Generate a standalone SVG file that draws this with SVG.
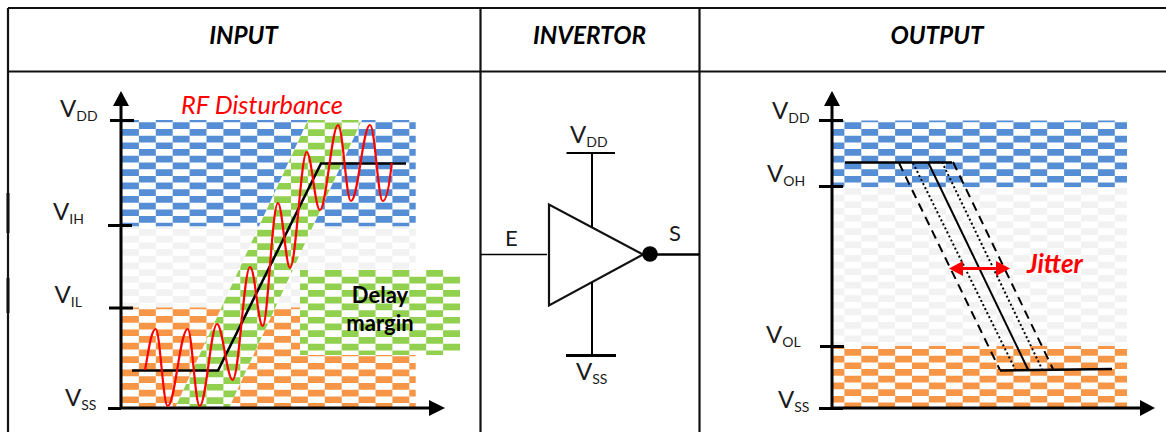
<svg xmlns="http://www.w3.org/2000/svg" width="1166" height="432" viewBox="0 0 1166 432">
<style>
text{font-family:Lato,"Open Sans","Liberation Sans",sans-serif;fill:#1a1a1a}
.v{font-size:24px}
.s{font-size:14px}
.l{font-size:22px}
.t{font-size:24.3px;font-weight:700;font-style:italic;fill:#000;text-anchor:middle}
.k{stroke:#000;fill:none}
.g{stroke:#111;stroke-width:2;fill:none}
.tick{stroke:#000;stroke-width:3;fill:none}
.ax{stroke:#000;stroke-width:3;fill:none}
.head{fill:#000}
.ck{fill:none;stroke-width:16.9;stroke-dasharray:6.7 6.7}
</style>
<defs>
<g id="ck">
<path class="ck" d="M130.45,0V320M164.25,0V320M198.05,0V320M231.85,0V320M265.65,0V320M299.45,0V320M333.25,0V320M367.05,0V320M400.85,0V320M434.65,0V320M468.45,0V320"/>
<path class="ck" d="M147.35,6.7V320M181.15,6.7V320M214.95,6.7V320M248.75,6.7V320M282.55,6.7V320M316.35,6.7V320M350.15,6.7V320M383.95,6.7V320M417.75,6.7V320M451.55,6.7V320"/>
</g>
<clipPath id="cb1"><rect x="122" y="120" width="293.7" height="106.5"/></clipPath>
<clipPath id="cg1"><rect x="122" y="226.5" width="293.7" height="81"/></clipPath>
<clipPath id="co1"><rect x="122" y="307.5" width="293.7" height="100"/></clipPath>
<clipPath id="cgr"><path d="M308,120H362L229,408H175Z"/><rect x="300" y="270" width="160" height="85"/></clipPath>
<clipPath id="cb2"><rect x="832" y="120.5" width="295" height="66.5"/></clipPath>
<clipPath id="cg2"><rect x="832" y="187" width="295" height="159"/></clipPath>
<clipPath id="co2"><rect x="832" y="346" width="295" height="62"/></clipPath>
</defs>
<rect width="1166" height="432" fill="#fff"/>

<g id="table">
<path class="g" d="M8,8H1166M8,71.5H1166M8,8V432M480.5,8V432M699.5,8V432" style="stroke-width:2.2"/>
<path class="g" d="M8,193V233M8,278V313" style="stroke-width:3"/>
<text class="t" x="243.5" y="44">INPUT</text>
<text class="t" x="589.5" y="44">INVERTOR</text>
<text class="t" x="937" y="44">OUTPUT</text>
</g>

<g id="input-chart">
<g clip-path="url(#cb1)"><use href="#ck" y="115.6" stroke="#558ed5"/></g>
<g clip-path="url(#cg1)"><use href="#ck" y="222.3" stroke="#f2f2f2"/></g>
<g clip-path="url(#co1)"><use href="#ck" y="302.6" stroke="#f79646"/></g>
<path d="M308,120H362L229,408H175Z" fill="#fff"/>
<rect x="300" y="270" width="160" height="85" fill="#fff"/>
<g clip-path="url(#cgr)"><use href="#ck" y="109.2" stroke="#92d050"/></g>
<text x="380" y="303" font-size="22" font-weight="700" text-anchor="middle" style="fill:#000">Delay</text>
<text x="380" y="331" font-size="22" font-weight="700" text-anchor="middle" style="fill:#000">margin</text>
<path class="ax" d="M121,104V408H431"/>
<path class="head" d="M121,91L129,106H113ZM445,408L429,400V416Z"/>
<path class="tick" d="M110,120.5H134M108,225.5H132M109,308H133M108,408.5H121"/>
<path class="k" stroke-width="2.5" d="M132,370.5H218L321,163.5H406"/>
<path d="M145,370C148,355 151,329 155.7,329C160,329 163,406 167.7,406C175,406 180,329 187.7,329C192,329 195,406 199.7,406C206,406 211,324 217,324C222.5,324 227,380 232.7,380C239,380 244,267 250,267C255,267 258,326 262.7,326C268,326 272,203 278,203C282,203 286,268 290,268C296,268 301,152 306.7,152C311.5,152 315,210 320,210C326,210 332,125 338,125C343,125 346,201 351,201C358,201 363,125 370,125C375,125 378,201 382.7,201C387,201 390,180 391.7,163" fill="none" stroke="#f00" stroke-width="2.2"/>
<text x="181" y="114" font-size="25.4" font-style="italic" style="fill:#f00">RF Disturbance</text>
<text class="v" x="60" y="117">V<tspan class="s" dy="4">DD</tspan></text>
<text class="v" x="53" y="220">V<tspan class="s" dy="4">IH</tspan></text>
<text class="v" x="54.5" y="303">V<tspan class="s" dy="4">IL</tspan></text>
<text class="v" x="65" y="406">V<tspan class="s" dy="4">SS</tspan></text>
</g>

<g id="inverter">
<path class="g" d="M549,204.5V305.5L643,254.5Z" style="stroke-width:2.2"/>
<circle cx="650" cy="254" r="7.8" fill="#000"/>
<text class="v" x="570" y="143">V<tspan class="s" dy="4">DD</tspan></text>
<text class="v" x="576" y="380">V<tspan class="s" dy="4">SS</tspan></text>
<text class="l" x="505" y="246">E</text>
<text class="l" x="669" y="241">S</text>
</g>

<g id="connectors">
<path class="k" stroke="#555" stroke-width="1.5" d="M481,254.5H547"/>
<path class="k" stroke-width="2.5" d="M650,254.5H699"/>
<path class="k" stroke-width="2" d="M592,153V227M592,282V355"/>
<path class="k" stroke-width="2" d="M566.5,153H615"/>
<path class="k" stroke-width="3" d="M566,355.5H616"/>
</g>

<g id="output-chart">
<g clip-path="url(#cb2)"><use href="#ck" x="705.5" y="115.6" stroke="#558ed5"/></g>
<g clip-path="url(#cg2)"><use href="#ck" x="705.5" y="181.3" stroke="#f2f2f2"/></g>
<g clip-path="url(#co2)"><use href="#ck" x="705.5" y="342.3" stroke="#f79646"/></g>
<path class="ax" d="M832,104V408H1142"/>
<path class="head" d="M832,91L840,106H824ZM1155,408L1140,400V416Z"/>
<path class="tick" d="M819,120.5H843M819,186.5H843M820,346.5H844M819,408.5H843"/>
<path class="k" stroke-width="2.5" d="M845,162.5H952M1000,370.5L1112,369"/>
<path class="k" stroke-width="2" d="M928,162L1028,369.5"/>
<path class="k" stroke-width="2" stroke-dasharray="9 6" d="M953,162L1053,369M899,163L1000,370"/>
<path class="k" stroke-width="2" stroke-dasharray="2 2.5" d="M913,163L1015,369M942,162L1042,369"/>
<path d="M949,268.5L963,261V267H996V261L1010,268.5L996,276V270H963V276Z" fill="#f00"/>
<text x="1027" y="273" font-size="26" font-weight="700" font-style="italic" style="fill:#f00">Jitter</text>
<text class="v" x="772" y="119">V<tspan class="s" dy="4">DD</tspan></text>
<text class="v" x="767" y="182">V<tspan class="s" dy="4">OH</tspan></text>
<text class="v" x="766" y="342.5">V<tspan class="s" dy="4">OL</tspan></text>
<text class="v" x="778" y="408">V<tspan class="s" dy="4">SS</tspan></text>
</g>
</svg>
